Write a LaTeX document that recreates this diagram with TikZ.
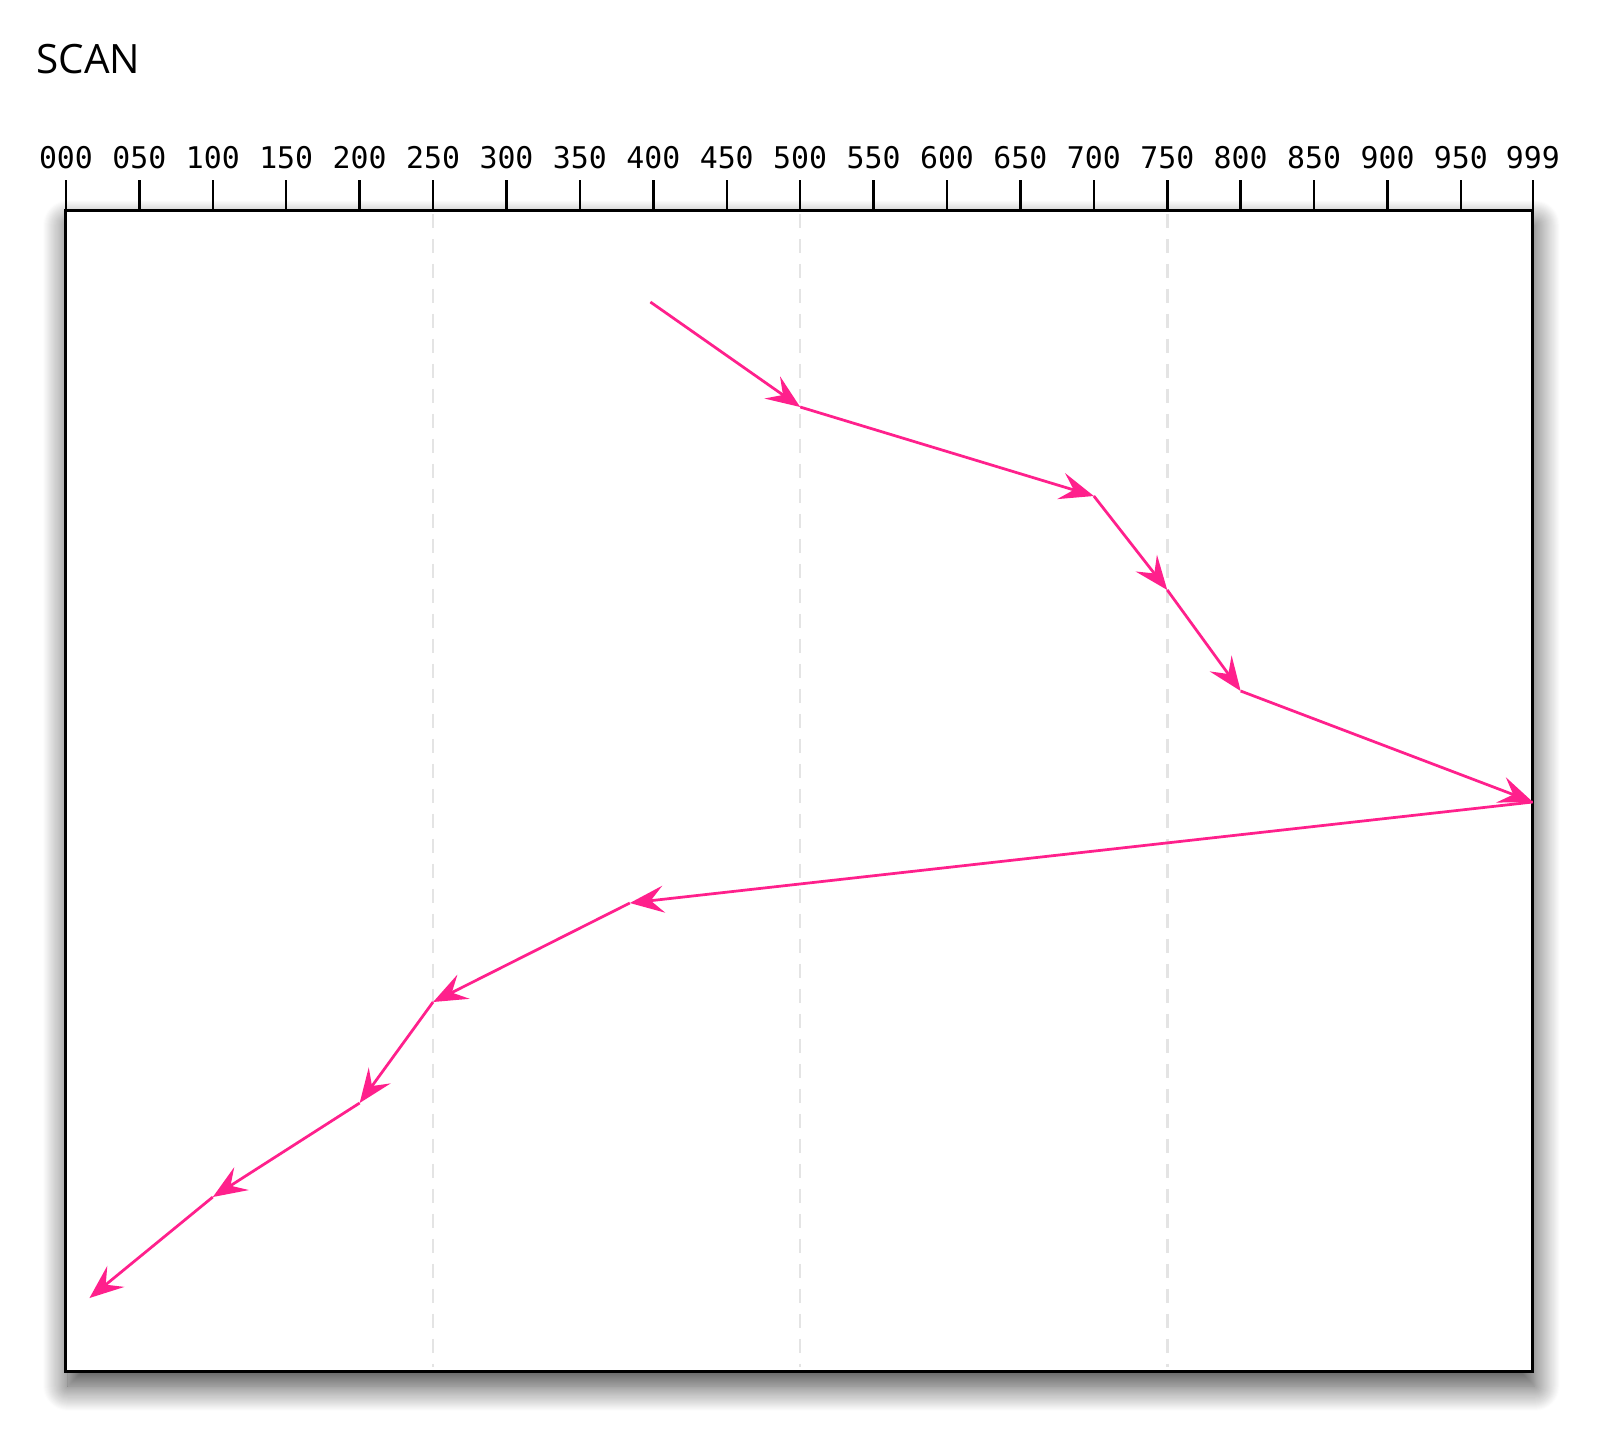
\documentclass[tikz,border=0pt]{standalone}
\usepackage{fontspec}
\setmainfont{Open Sans}
\setmonofont{DejaVu Sans Mono}
\usetikzlibrary{arrows.meta,shadows.blur}
\definecolor{scanpink}{RGB}{255,32,140}
\definecolor{guidegray}{RGB}{228,228,228}

\begin{document}
\begin{tikzpicture}[x=0.02cm,y=-0.02cm,
    scanarrow/.style={scanpink,line width=0.055cm,-{Stealth[length=0.68cm,width=0.54cm,inset=0.26cm]}},
    guide/.style={guidegray,line width=0.05cm,dash pattern=on 0.28cm off 0.22cm},
    rulertick/.style={black,line width=0.05cm},
    ticklabel/.style={anchor=base,inner sep=0pt,font=\ttfamily\fontsize{17}{17}\selectfont}]
    \useasboundingbox (0,0) rectangle (1600,1444);
    \node[anchor=base west,inner sep=0pt,font=\fontsize{23}{23}\selectfont] (title) at (36,73) {SCAN};
    \begin{scope}[xshift=1.32cm,x=0.02937cm]
    % disk box
    \path[fill=white,
      blur shadow={shadow xshift=0.04cm,shadow yshift=-0.3cm,shadow blur radius=0.5cm,
                   shadow blur steps=25,shadow opacity=75}]
      (0,210) rectangle (999,1371);
    \foreach \v in {250,500,750}
      \draw[guide] (\v,214) -- (\v,1367);
    \draw[black,line width=0.06cm] (0,210) rectangle (999,1371);
    % ruler
    \foreach \v/\lab in {0/000,50/050,100/100,150/150,200/200,250/250,300/300,350/350,400/400,450/450,
                         500/500,550/550,600/600,650/650,700/700,750/750,800/800,850/850,900/900,950/950,999/999} {
      \draw[rulertick] (\v,180) -- (\v,210);
      \node[ticklabel] (t\v) at (\v,168) {\lab};
    }
    % head movement
    \foreach \n/\v/\y in {0/398/302,1/500/407,2/700/496,3/750/590,4/800/691,5/999/802,
                          6/384/903,7/250/1002,8/200/1103,9/100/1197,10/16/1298}
      \coordinate (p\n) at (\v,\y);
    \foreach \a/\b in {0/1,1/2,2/3,3/4,4/5,5/6,6/7,7/8,8/9,9/10}
      \draw[scanarrow] (p\a) -- (p\b);
    \end{scope}
\end{tikzpicture}
\end{document}
